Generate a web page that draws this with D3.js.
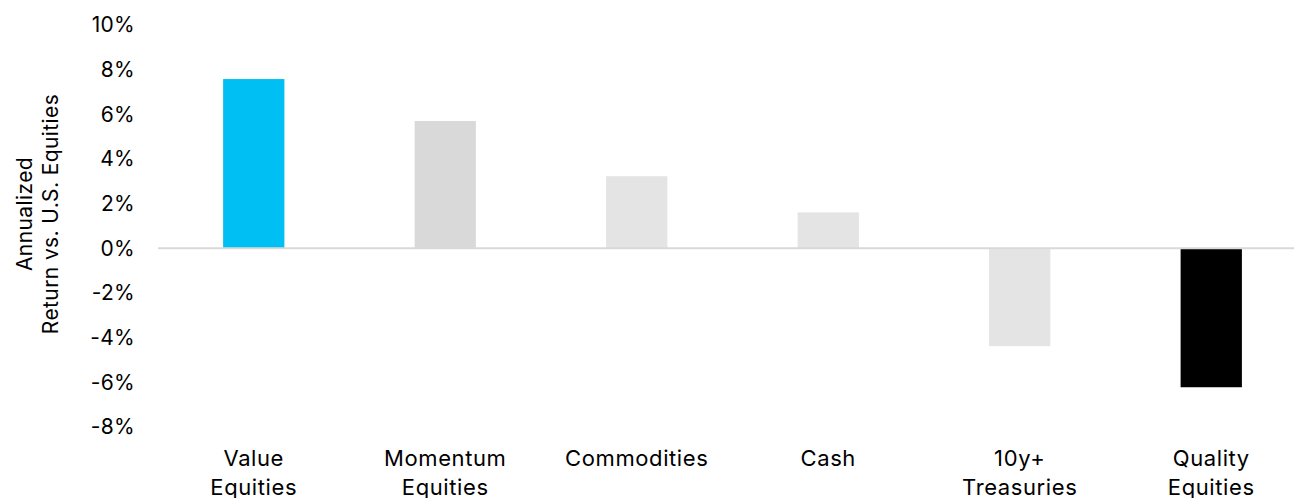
<!DOCTYPE html>
<html>
    <head>
        <meta charset="UTF-8">
        <script src="https://cdn.jsdelivr.net/npm/d3@7"></script>
        <style>
            body { margin: 0; background: #fff; }
            text { font-family: Inter, "Noto Sans", sans-serif; fill: #000; }
        </style>
    </head>
    <body>
        <div id="ChartContainer"></div>
    </body>
    <script>
        // values
        const categories = ["Value Equities", "Momentum Equities", "Commodities", "Cash", "10y+ Treasuries", "Quality Equities"]
        const label_lines = [["Value", "Equities"], ["Momentum", "Equities"], ["Commodities"], ["Cash"], ["10y+", "Treasuries"], ["Quality", "Equities"]]
        const returns = [7.58, 5.7, 3.23, 1.61, -4.38, -6.22]
        const y_ticks = [10, 8, 6, 4, 2, 0, -2, -4, -6, -8]

        const bar_colors = ["#00c0f3", "#d9d9d9", "#e4e4e4", "#e4e4e4", "#e4e4e4", "#000000"]

        const width = 1294
        const height = 498

        const svg = d3.select("#ChartContainer")
            .append("svg")
            .attr("width", width)
            .attr("height", height)

        const x = d3.scaleBand()
            .domain(categories)
            .range([158, 1307])
            .paddingInner(0.68)
            .paddingOuter(0.34)

        const y = d3.scaleLinear()
            .domain([-8, 10])
            .range([427, 25])

        const color = d3.scaleOrdinal()
            .domain(categories)
            .range(bar_colors)

        // y axis, labels only
        const y_axis = svg.append("g")
            .attr("transform", "translate(158,0)")
            .call(d3.axisLeft(y).tickValues(y_ticks).tickSize(0).tickPadding(23).tickFormat(d => d + "%"))
        y_axis.select(".domain").remove()
        y_axis.selectAll("text")
            .style("font-size", "21px")
            .style("font-family", "Inter, 'Noto Sans', sans-serif")
            .style("letter-spacing", "0.3px")
            .attr("fill", "#000")

        svg.selectAll("rect.bar")
            .data(returns)
            .enter()
            .append("rect")
            .attr("class", "bar")
            .attr("x", (d, i) => x(categories[i]))
            .attr("width", x.bandwidth())
            .attr("y", d => y(Math.max(0, d)))
            .attr("height", d => Math.abs(y(d) - y(0)))
            .attr("fill", (d, i) => color(categories[i]))

        // zero line
        svg.append("line")
            .attr("x1", 158)
            .attr("x2", width)
            .attr("y1", y(0))
            .attr("y2", y(0))
            .attr("stroke", "#d9d9d9")
            .attr("stroke-width", 2)

        // category labels
        const cat = svg.selectAll("text.cat")
            .data(label_lines)
            .enter()
            .append("text")
            .attr("class", "cat")
            .attr("text-anchor", "middle")
            .style("font-size", "22px")
            .style("letter-spacing", "0.6px")
            .attr("transform", (d, i) => "translate(" + (x(categories[i]) + x.bandwidth() / 2) + ",466)")
        cat.selectAll("tspan")
            .data(d => d)
            .enter()
            .append("tspan")
            .attr("x", 0)
            .attr("y", (d, i) => i * 29)
            .text(d => d)

        // y axis title
        const title = svg.append("text")
            .attr("transform", "translate(0,214) rotate(-90)")
            .attr("text-anchor", "middle")
            .style("font-size", "21px")
            .style("letter-spacing", "0.4px")
        title.append("tspan").attr("x", 0).attr("y", 32).text("Annualized")
        title.append("tspan").attr("x", 0).attr("y", 58).text("Return vs. U.S. Equities")
    </script>
</html>
